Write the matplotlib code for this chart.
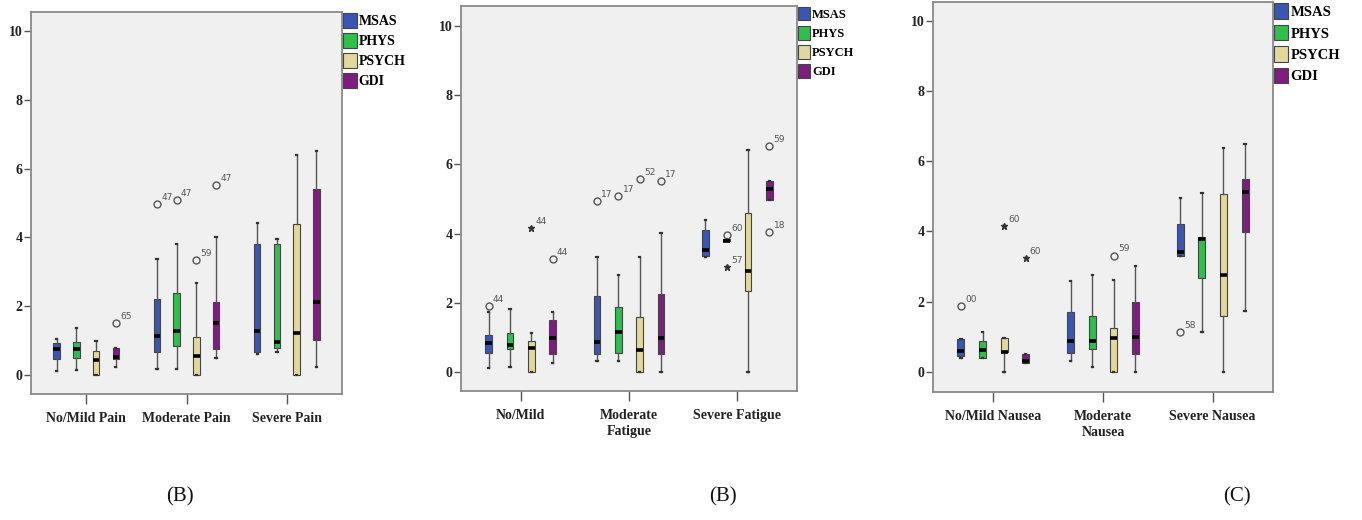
import matplotlib
matplotlib.use("Agg")
import matplotlib.pyplot as plt
from matplotlib.patches import Patch

# ---------------- data ----------------
SERIES = ["MSAS", "PHYS", "PSYCH", "GDI"]
COLORS = ["#3a56b4", "#2fbf4b", "#e2d89c", "#7e1c80"]

PAIN_CATS = ["No/Mild Pain", "Moderate Pain", "Severe Pain"]
PAIN_Q1 = [[0.48, 0.51, 0.00, 0.48], [0.66, 0.85, 0.00, 0.76], [0.66, 0.78, 0.00, 1.02]]
PAIN_MED = [[0.76, 0.75, 0.44, 0.53], [1.14, 1.28, 0.56, 1.52], [1.29, 0.97, 1.21, 2.13]]
PAIN_Q3 = [[0.94, 0.95, 0.71, 0.78], [2.21, 2.39, 1.11, 2.13], [3.80, 3.80, 4.38, 5.40]]
PAIN_WLO = [[0.13, 0.15, 0.00, 0.24], [0.17, 0.19, 0.00, 0.50], [0.62, 0.68, 0.00, 0.24]]
PAIN_WHI = [[1.04, 1.36, 0.98, 0.78], [3.37, 3.82, 2.67, 4.00], [4.41, 3.94, 6.40, 6.51]]
# (category, series, value, label, marker)
PAIN_OUT = [(0, 3, 1.52, "65", "o"), (1, 0, 4.96, "47", "o"), (1, 1, 5.09, "47", "o"),
            (1, 2, 3.34, "59", "o"), (1, 3, 5.52, "47", "o")]

FAT_CATS = ["No/Mild", "Moderate\nFatigue", "Severe Fatigue"]
FAT_Q1 = [[0.57, 0.67, 0.00, 0.53], [0.52, 0.55, 0.00, 0.53], [3.35, 3.78, 2.35, 4.98]]
FAT_MED = [[0.84, 0.79, 0.71, 1.00], [0.88, 1.15, 0.64, 1.00], [3.53, 3.80, 2.93, 5.28]]
FAT_Q3 = [[1.09, 1.13, 0.90, 1.51], [2.20, 1.87, 1.60, 2.26], [4.10, 3.84, 4.60, 5.53]]
FAT_WLO = [[0.13, 0.16, 0.00, 0.26], [0.34, 0.34, 0.00, 0.00], [3.33, 3.78, 0.00, 4.98]]
FAT_WHI = [[1.75, 1.83, 1.14, 1.75], [3.34, 2.80, 3.34, 4.01], [4.39, 3.84, 6.41, 5.53]]
FAT_OUT = [(0, 0, 1.92, "44", "o"), (0, 2, 4.17, "44", "*"), (0, 3, 3.27, "44", "o"),
           (1, 0, 4.95, "17", "o"), (1, 1, 5.09, "17", "o"), (1, 2, 5.57, "52", "o"),
           (1, 3, 5.52, "17", "o"), (2, 1, 3.95, "60", "o"), (2, 1, 3.04, "57", "*"),
           (2, 3, 6.53, "59", "o"), (2, 3, 4.04, "18", "o")]

NAU_CATS = ["No/Mild Nausea", "Moderate\nNausea", "Severe Nausea"]
NAU_Q1 = [[0.46, 0.40, 0.55, 0.24], [0.52, 0.65, 0.00, 0.50], [3.31, 2.68, 1.59, 3.99]]
NAU_MED = [[0.59, 0.62, 0.55, 0.30], [0.86, 0.88, 0.97, 1.00], [3.40, 3.78, 2.76, 5.13]]
NAU_Q3 = [[0.93, 0.88, 0.95, 0.50], [1.71, 1.60, 1.24, 2.00], [4.21, 3.85, 5.06, 5.49]]
NAU_WLO = [[0.40, 0.40, 0.00, 0.24], [0.30, 0.14, 0.00, 0.00], [3.31, 1.14, 0.00, 1.74]]
NAU_WHI = [[0.93, 1.12, 0.95, 0.50], [2.59, 2.76, 2.61, 3.00], [4.94, 5.09, 6.39, 6.49]]
NAU_OUT = [(0, 0, 1.88, "00", "o"), (0, 2, 4.16, "60", "*"), (0, 3, 3.25, "60", "*"),
           (1, 2, 3.31, "59", "o"), (2, 0, 1.12, "58", "o")]

Y_TICKS = [0, 2, 4, 6, 8, 10]
CAPTIONS = ["(B)", "(B)", "(C)"]

# ---------------- layout ----------------
W, H = 1362, 520
fig = plt.figure(figsize=(W / 100, H / 100), dpi=100)
fig.patch.set_facecolor("white")

OFFSETS = [-0.295, -0.098, 0.098, 0.295]
BOXW = 0.064
SERIF = "Liberation Serif"


def px_axes(l, r, t, b):
    return fig.add_axes([l / W, 1 - b / H, (r - l) / W, (b - t) / H])


def panel(ax, cats, q1, med, q3, wlo, whi, outs, ylim, leg_fs, leg_spacing):
    ax.set_facecolor("#f0f0f0")
    for c in range(len(cats)):
        for s in range(4):
            stats = [dict(med=med[c][s], q1=q1[c][s], q3=q3[c][s],
                          whislo=wlo[c][s], whishi=whi[c][s], fliers=[])]
            ax.bxp(stats, positions=[c + 1 + OFFSETS[s]], widths=BOXW,
                   patch_artist=True, showfliers=False,
                   boxprops=dict(facecolor=COLORS[s], edgecolor="#444444", linewidth=0.8),
                   medianprops=dict(color="black", linewidth=2.6, solid_capstyle="butt"),
                   whiskerprops=dict(color="#555555", linewidth=1.0),
                   capprops=dict(color="#333333", linewidth=1.6),
                   capwidths=0.012, manage_ticks=False)
    for c, s, v, lab, mk in outs:
        x = c + 1 + OFFSETS[s]
        if mk == "o":
            ax.plot([x], [v], marker="o", ms=5, mfc="none", mec="#555555", mew=1.0,
                    linestyle="none")
        else:
            ax.plot([x], [v], marker="*", ms=5, color="#333333", linestyle="none")
        ax.annotate(lab, (x, v), xytext=(3, 3), textcoords="offset points",
                    fontsize=6.5, color="#555555", family="DejaVu Sans")
    ax.set_xlim(0.45, 3.55)
    ax.set_ylim(*ylim)
    ax.set_xticks([1, 2, 3])
    ax.set_xticklabels(cats, family=SERIF, fontweight="bold", fontsize=10,
                       color="#222222", linespacing=1.25)
    ax.set_yticks(Y_TICKS)
    ax.set_yticklabels([str(t) for t in Y_TICKS], family=SERIF, fontweight="bold",
                       fontsize=10, color="#222222")
    ax.tick_params(axis="both", direction="out", length=5, width=1.0, color="#555555")
    ax.tick_params(axis="x", pad=6, length=7)
    ax.tick_params(axis="y", pad=1)
    for sp in ax.spines.values():
        sp.set_color("#8a8a8a")
        sp.set_linewidth(1.3)
    handles = [Patch(facecolor=COLORS[i], edgecolor="#444444", linewidth=0.8, label=SERIES[i])
               for i in range(4)]
    ax.legend(handles=handles, loc="upper left", bbox_to_anchor=(1.0, 1.0),
              frameon=False, borderaxespad=0.1, borderpad=0.0, handlelength=0.95,
              handleheight=1.25, handletextpad=0.15, labelspacing=leg_spacing,
              prop=dict(family=SERIF, weight="bold", size=leg_fs))


ax1 = px_axes(31, 342, 12, 394)
panel(ax1, PAIN_CATS, PAIN_Q1, PAIN_MED, PAIN_Q3, PAIN_WLO, PAIN_WHI, PAIN_OUT,
      (-0.55, 10.55), 10, 0.35)
ax2 = px_axes(461, 797, 6, 391)
panel(ax2, FAT_CATS, FAT_Q1, FAT_MED, FAT_Q3, FAT_WLO, FAT_WHI, FAT_OUT,
      (-0.54, 10.57), 9, 0.42)
ax3 = px_axes(933, 1273, 2, 392)
panel(ax3, NAU_CATS, NAU_Q1, NAU_MED, NAU_Q3, NAU_WLO, NAU_WHI, NAU_OUT,
      (-0.58, 10.54), 10.5, 0.4)

for x, cap in zip([180, 723, 1237], CAPTIONS):
    fig.text(x / W, 1 - 497 / H, cap, ha="center", va="center", family=SERIF,
             fontsize=15, color="#111111")

fig.savefig("out.png", dpi=100, facecolor="white")
